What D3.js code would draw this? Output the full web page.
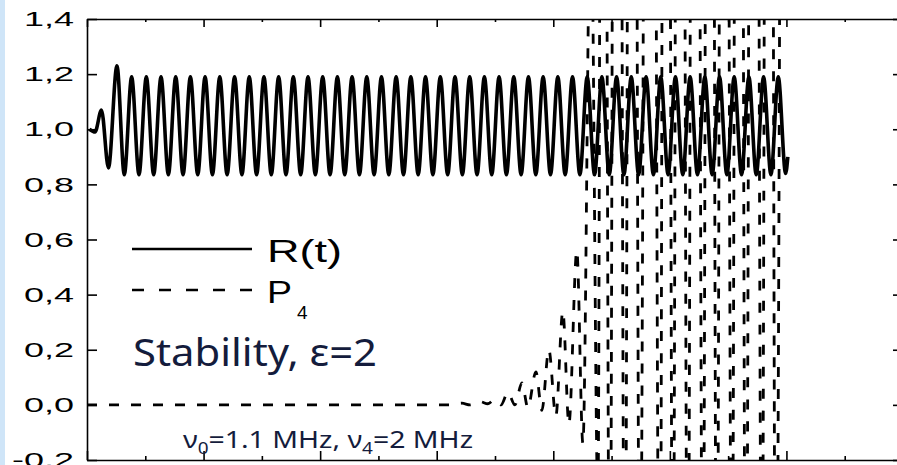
<!DOCTYPE html>
<html>
<head>
<meta charset="utf-8">
<script src="https://cdn.jsdelivr.net/npm/d3@7"></script>
<style>
body { margin: 0; background: #fff; overflow: hidden; }
.axis path, .axis line { stroke: #000; stroke-width: 1.6; }
</style>
</head>
<body>
<script>
var width = 897, height = 465;

// x axis: time, arbitrary units (one major tick = 10)
var xMajor = [0, 10, 20, 30, 40, 50, 60, 70];
var xMinor = [5, 15, 25, 35, 45, 55, 65];
var yTicks = [-0.2, 0, 0.2, 0.4, 0.6, 0.8, 1.0, 1.2, 1.4];
var yLabels = ["-0,2", "0,0", "0,2", "0,4", "0,6", "0,8", "1,0", "1,2", "1,4"];

// R(t): turning points
var rTime = [0.20, 0.69, 1.24, 1.84, 2.57, 3.20,
  3.83, 4.46, 5.09, 5.72, 6.35, 6.98, 7.61, 8.24, 8.87, 9.50,
  10.13, 10.76, 11.39, 12.02, 12.66, 13.29, 13.92, 14.55, 15.18, 15.81,
  16.44, 17.07, 17.70, 18.33, 18.96, 19.59, 20.22, 20.85, 21.48, 22.11,
  22.74, 23.37, 24.00, 24.63, 25.26, 25.89, 26.52, 27.15, 27.78, 28.41,
  29.04, 29.67, 30.31, 30.94, 31.57, 32.20, 32.83, 33.46, 34.09, 34.72,
  35.35, 35.98, 36.61, 37.24, 37.87, 38.50, 39.13, 39.76, 40.39, 41.02,
  41.65, 42.28, 42.91, 43.54, 44.17, 44.80, 45.43, 46.06, 46.69, 47.32,
  47.96, 48.59, 49.22, 49.85, 50.48, 51.11, 51.74, 52.37, 53.00, 53.63,
  54.26, 54.89, 55.52, 56.15, 56.78, 57.41, 58.04, 58.67, 59.30, 59.93, 60.12];
var rValue = [1.00, 0.99, 1.07, 0.86, 1.23, 0.835,
  1.19, 0.835, 1.19, 0.835, 1.19, 0.835, 1.19, 0.835, 1.19, 0.835,
  1.19, 0.835, 1.19, 0.835, 1.19, 0.835, 1.19, 0.835, 1.19, 0.835,
  1.19, 0.835, 1.19, 0.835, 1.19, 0.835, 1.19, 0.835, 1.19, 0.835,
  1.19, 0.835, 1.19, 0.835, 1.19, 0.835, 1.19, 0.835, 1.19, 0.835,
  1.19, 0.835, 1.19, 0.835, 1.19, 0.835, 1.19, 0.835, 1.19, 0.835,
  1.19, 0.835, 1.19, 0.835, 1.19, 0.835, 1.19, 0.835, 1.19, 0.835,
  1.19, 0.835, 1.19, 0.835, 1.19, 0.835, 1.19, 0.835, 1.19, 0.835,
  1.19, 0.835, 1.19, 0.835, 1.19, 0.835, 1.19, 0.835, 1.19, 0.835,
  1.19, 0.835, 1.19, 0.835, 1.19, 0.835, 1.19, 0.835, 1.19, 0.84, 0.90];

// P4: turning points, far outside the frame once it blows up
var pTime = [0, 31.13, 32.16, 32.85, 33.70, 34.39, 34.99, 35.51, 36.11, 36.71,
  37.31, 37.82, 38.51, 39.02, 39.62, 40.22, 40.82, 41.34, 42.02, 42.54,
  43.22, 43.83, 44.25, 44.85, 45.45, 46.14, 46.74, 47.43, 48.28, 49.14,
  49.66, 50.26, 50.86, 51.54, 52.14, 52.83, 53.43, 54.03, 54.63, 55.32,
  55.92, 56.52, 57.20, 57.89, 58.49, 59.09, 59.78];
var pValue = [0, 0, 0.006, 0, 0.012, 0.004, 0.02, 0, 0.045, 0,
  0.08, -0.01, 0.12, -0.02, 0.2, -0.04, 0.34, -0.07, 0.56, -0.14,
  1.9, -0.35, 6, -1.0, 8, -1.1, 8, -1.0, 8, -1.2,
  8, -1.0, 8, -1.1, 8, -1.0, 8, -1.1, 8, -1.0,
  8, -1.2, 8, -1.0, 8, -1.1, 8];

var navy = "#141c3c";

var x = d3.scaleLinear().domain([0, 70]).range([87, 903]);
var y = d3.scaleLinear().domain([-0.2, 1.4]).range([460, 19]);

var svg = d3.select("body")
.append("svg")
.attr("width", width)
.attr("height", height);

// light blue strip on the left edge
svg.append("rect")
.attr("x", 0).attr("y", 0)
.attr("width", 5).attr("height", height)
.attr("fill", "#cfe5f8");

svg.append("defs").append("clipPath")
.attr("id", "plotClip")
.append("rect")
.attr("x", x(0))
.attr("y", y(1.4))
.attr("width", x(70) - x(0))
.attr("height", y(-0.2) - y(1.4));

//curves
var rLine = d3.line()
.x(function(d, i) { return x(rTime[i]); })
.y(function(d) { return y(d); })
.curve(d3.curveMonotoneX);

var pLine = d3.line()
.x(function(d, i) { return x(pTime[i]); })
.y(function(d) { return y(d); })
.curve(d3.curveMonotoneX);

var plot = svg.append("g").attr("clip-path", "url(#plotClip)");

plot.append("path")
.datum(pValue)
.attr("d", pLine)
.attr("fill", "none")
.attr("stroke", "#000")
.attr("stroke-width", 2.8)
.attr("stroke-dasharray", "10,12");

plot.append("path")
.datum(rValue)
.attr("d", rLine)
.attr("fill", "none")
.attr("stroke", "#000")
.attr("stroke-width", 3.6)
.attr("stroke-linejoin", "round");

//axes, ticks pointing inward
function noDomain(g) { g.select(".domain").remove(); }

svg.append("g").attr("class", "axis")
.attr("transform", "translate(0," + y(-0.2) + ")")
.call(d3.axisBottom(x).tickValues(xMajor).tickSize(-9).tickSizeOuter(0).tickFormat(""));
svg.append("g").attr("class", "axis")
.attr("transform", "translate(0," + y(-0.2) + ")")
.call(d3.axisBottom(x).tickValues(xMinor).tickSize(-4).tickFormat(""))
.call(noDomain);

svg.append("g").attr("class", "axis")
.attr("transform", "translate(0," + y(1.4) + ")")
.call(d3.axisTop(x).tickValues(xMajor).tickSize(-8).tickSizeOuter(0).tickFormat(""));
svg.append("g").attr("class", "axis")
.attr("transform", "translate(0," + y(1.4) + ")")
.call(d3.axisTop(x).tickValues(xMinor).tickSize(-3).tickFormat(""))
.call(noDomain);

svg.append("g").attr("class", "axis")
.attr("transform", "translate(" + x(70) + ",0)")
.call(d3.axisRight(y).tickValues(yTicks).tickSize(-10).tickSizeOuter(0).tickFormat(""));

var yAxis = svg.append("g").attr("class", "axis")
.attr("transform", "translate(" + x(0) + ",0)")
.call(d3.axisLeft(y).tickValues(yTicks).tickSize(-10).tickSizeOuter(0).tickPadding(13)
  .tickFormat(function(d, i) { return yLabels[i]; }));

yAxis.selectAll("text")
.attr("font-family", "Liberation Sans, Arial, sans-serif")
.attr("font-size", 21)
.attr("fill", "#000")
.attr("textLength", function(d) { return d < 0 ? 62 : 50; })
.attr("lengthAdjust", "spacingAndGlyphs");

//legend
svg.append("line")
.attr("x1", 132).attr("x2", 252)
.attr("y1", 249).attr("y2", 249)
.attr("stroke", "#000").attr("stroke-width", 2.6);

svg.append("line")
.attr("x1", 132).attr("x2", 252)
.attr("y1", 290).attr("y2", 290)
.attr("stroke", "#000").attr("stroke-width", 2.4)
.attr("stroke-dasharray", "12,15");

svg.append("text")
.attr("x", 267).attr("y", 262)
.attr("font-family", "Liberation Sans, Arial, sans-serif")
.attr("font-size", 32)
.attr("textLength", 75)
.attr("lengthAdjust", "spacingAndGlyphs")
.text("R(t)");

svg.append("text")
.attr("x", 267).attr("y", 303)
.attr("font-family", "Liberation Sans, Arial, sans-serif")
.attr("font-size", 32)
.attr("textLength", 25)
.attr("lengthAdjust", "spacingAndGlyphs")
.text("P");

svg.append("text")
.attr("x", 297).attr("y", 319)
.attr("font-family", "Liberation Sans, Arial, sans-serif")
.attr("font-size", 19)
.text("4");

//annotations
svg.append("text")
.attr("x", 133).attr("y", 366)
.attr("font-family", "Noto Sans, sans-serif")
.attr("font-size", 39)
.attr("fill", navy)
.attr("textLength", 244)
.attr("lengthAdjust", "spacingAndGlyphs")
.text("Stability, ε=2");

var note = svg.append("text")
.attr("x", 183).attr("y", 448)
.attr("font-family", "Noto Sans, sans-serif")
.attr("font-size", 24)
.attr("fill", navy)
.attr("textLength", 290)
.attr("lengthAdjust", "spacingAndGlyphs");
note.append("tspan").text("ν");
note.append("tspan").attr("font-size", 16).attr("dy", 6).text("0");
note.append("tspan").attr("dy", -6).text("=1.1 MHz, ν");
note.append("tspan").attr("font-size", 16).attr("dy", 6).text("4");
note.append("tspan").attr("dy", -6).text("=2 MHz");
</script>
</body>
</html>
